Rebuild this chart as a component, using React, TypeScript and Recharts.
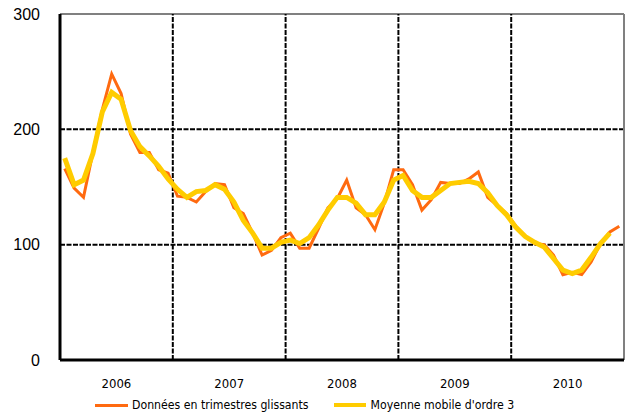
import React from 'react';
import { LineChart, Line, XAxis, YAxis, ReferenceLine, Legend } from 'recharts';

// Années affichées sous l'axe horizontal (12 mois chacune)
const years = ['2006', '2007', '2008', '2009', '2010'];

// Données en trimestres glissants (mensuel, jan. 2006 - déc. 2010)
const rolling = [
  166, 149, 141, 180, 217, 248, 231, 196, 180, 180, 165, 162,
  142, 141, 137, 146, 153, 152, 132, 127, 110, 91, 95, 106,
  110, 97, 97, 114, 132, 140, 156, 132, 126, 113, 136, 165,
  165, 152, 130, 139, 154, 153, 153, 157, 163, 141, 134, 127,
  116, 107, 101, 100, 91, 74, 76, 74, 85, 101, 111, 116,
];

// Moyenne mobile d'ordre 3 (dernier mois absent)
const movingAvg = [
  175, 152, 156, 179, 215, 232, 226, 199, 185, 177, 168, 157,
  148, 141, 146, 147, 152, 148, 137, 121, 110, 97, 97, 102,
  104, 101, 106, 117, 130, 141, 141, 136, 126, 126, 137, 156,
  160, 147, 141, 141, 147, 153, 154, 155, 153, 145, 134, 126,
  115, 107, 102, 98, 88, 78, 75, 78, 89, 101, 110, null,
];

const yTicks = [0, 100, 200, 300];

const ORANGE = '#FF6A10';
const YELLOW = '#FFCC00';
const FONT = '"Liberation Sans", Arial, sans-serif';
const NARROW = '"DejaVu Sans Condensed", "Liberation Sans Narrow", Arial, sans-serif';

const chartData = rolling.map((v, i) => ({
  pos: i + 0.5,
  rolling: v,
  avg: movingAvg[i],
}));

const yearTicks = years.map((_, i) => i * 12 + 6);
const yearBounds = [12, 24, 36, 48];

const LegendBox = () => (
  <div
    style={{
      display: 'flex',
      fontFamily: NARROW,
      fontSize: 12.2,
      lineHeight: '16px',
      color: '#000',
      marginLeft: 95,
      paddingTop: 7,
    }}
  >
    <div style={{ display: 'flex', alignItems: 'center' }}>
      <span style={{ width: 33, height: 3, background: ORANGE, marginRight: 4 }} />
      <span>Données en trimestres glissants</span>
    </div>
    <div style={{ display: 'flex', alignItems: 'center', marginLeft: 25 }}>
      <span style={{ width: 32, height: 4, background: YELLOW, marginRight: 5 }} />
      <span>Moyenne mobile d'ordre 3</span>
    </div>
  </div>
);

export default function App() {
  return (
    <div style={{ position: 'absolute', left: 0, top: 0, background: '#fff' }}>
      <LineChart
        width={633}
        height={415}
        data={chartData}
        margin={{ top: 14, right: 9, left: 0, bottom: 0 }}
      >
        <XAxis
          dataKey="pos"
          type="number"
          domain={[0, 60]}
          ticks={yearTicks}
          tickFormatter={(v: number) => years[(v - 6) / 12]}
          tickLine={false}
          axisLine={{ stroke: '#000', strokeWidth: 3 }}
          tick={{ fill: '#000', fontSize: 13, fontFamily: NARROW }}
          tickMargin={13}
          height={30}
        />
        <YAxis
          domain={[0, 300]}
          ticks={yTicks}
          tickLine={false}
          axisLine={{ stroke: '#000', strokeWidth: 3 }}
          tick={{ fill: '#000', fontSize: 16, fontFamily: FONT }}
          tickMargin={14}
          width={60}
        />

        {/* grille */}
        <ReferenceLine y={100} stroke="#000" strokeWidth={2} strokeDasharray="5 1.5" />
        <ReferenceLine y={200} stroke="#000" strokeWidth={2} strokeDasharray="5 1.5" />
        <ReferenceLine y={300} stroke="#808080" strokeWidth={2} />
        <ReferenceLine x={60} stroke="#808080" strokeWidth={2} />
        {yearBounds.map((b) => (
          <ReferenceLine key={b} x={b} stroke="#000" strokeWidth={2} strokeDasharray="5 1.5" />
        ))}

        <Legend verticalAlign="bottom" height={25} content={() => <LegendBox />} />

        <Line
          type="linear"
          dataKey="rolling"
          stroke={ORANGE}
          strokeWidth={3}
          dot={false}
          isAnimationActive={false}
          name="Données en trimestres glissants"
        />
        <Line
          type="linear"
          dataKey="avg"
          stroke={YELLOW}
          strokeWidth={5}
          dot={false}
          isAnimationActive={false}
          name="Moyenne mobile d'ordre 3"
        />
      </LineChart>
    </div>
  );
}
